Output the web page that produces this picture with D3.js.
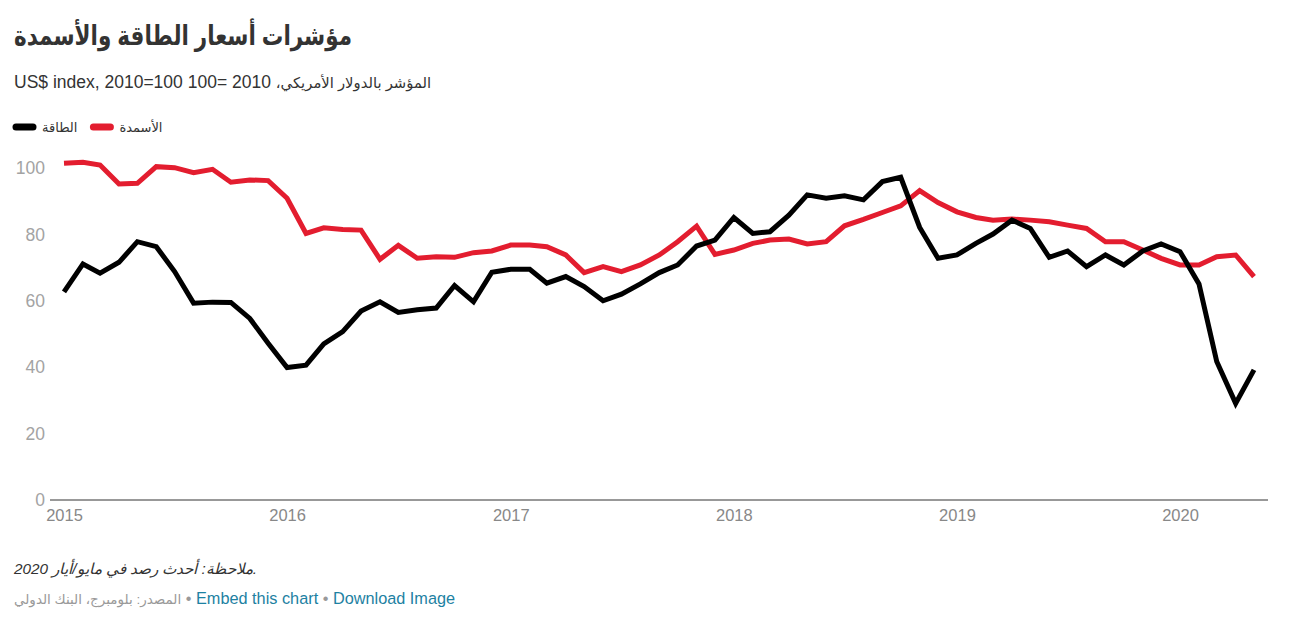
<!doctype html>
<html>
<head>
<meta charset="utf-8" />
<title>مؤشرات أسعار الطاقة والأسمدة</title>
<style>
  html,body{margin:0;background:#fff}
  body{width:1291px;height:630px;position:relative;overflow:hidden;
       font-family:"Liberation Sans", Arial, "DejaVu Sans", sans-serif;color:#333}
  .hd{position:absolute;left:14px;white-space:nowrap}
  .title{top:20px;font-size:27px;font-weight:bold;color:#333;transform-origin:0 0}
  .sub{top:72px;font-size:17.5px;color:#333;text-align:left}
  .sub .ar{font-size:14.8px}
  .note{top:560px;font-size:15.3px;font-style:italic;color:#333}
  .src{top:589px;font-size:16.3px;color:#999}
  .src .ar{font-size:13.5px}
  .src a{color:#1d81a2;text-decoration:none}
  svg{position:absolute;left:0;top:0}
</style>
</head>
<body>
<div class="hd title" id="title">مؤشرات أسعار الطاقة والأسمدة</div>
<div class="hd sub" dir="rtl"><span class="ar">المؤشر بالدولار الأمريكي،</span> 2010 =100 US$ index, 2010=100</div>
<div class="hd note">ملاحظة: أحدث رصد في مايو/أيار 2020.</div>
<div class="hd src"><span class="ar">المصدر: بلومبرج، البنك الدولي</span> • <a href="#">Embed this chart</a> • <a href="#">Download Image</a></div>
<svg id="chart" width="1291" height="630"></svg>

<script src="https://cdn.jsdelivr.net/npm/d3@7"></script>
<script>
// monthly, Jan 2015 .. May 2020
const months = [
  "2015-01","2015-02","2015-03","2015-04","2015-05","2015-06","2015-07","2015-08","2015-09","2015-10","2015-11","2015-12",
  "2016-01","2016-02","2016-03","2016-04","2016-05","2016-06","2016-07","2016-08","2016-09","2016-10","2016-11","2016-12",
  "2017-01","2017-02","2017-03","2017-04","2017-05","2017-06","2017-07","2017-08","2017-09","2017-10","2017-11","2017-12",
  "2018-01","2018-02","2018-03","2018-04","2018-05","2018-06","2018-07","2018-08","2018-09","2018-10","2018-11","2018-12",
  "2019-01","2019-02","2019-03","2019-04","2019-05","2019-06","2019-07","2019-08","2019-09","2019-10","2019-11","2019-12",
  "2020-01","2020-02","2020-03","2020-04","2020-05"
];

// الطاقة (energy)
const energy = [
  62.7,71.1,68.3,71.6,77.8,76.3,68.8,59.3,59.6,59.5,54.7,47.2,
  39.9,40.6,47.0,50.7,56.9,59.7,56.5,57.3,57.8,64.6,59.7,68.6,
  69.5,69.5,65.3,67.3,64.3,60.0,62.0,65.1,68.5,70.8,76.5,78.3,
  85.1,80.3,80.8,85.8,91.9,90.9,91.6,90.4,95.9,97.2,82.1,72.8,
  73.8,77.3,80.1,84.3,81.8,73.1,75.0,70.3,73.8,70.8,75.0,77.1,
  74.8,65.1,41.7,29.1,39.2
];

// الأسمدة (fertilizers)
const fertilizer = [
  101.4,101.7,100.9,95.2,95.4,100.4,100.1,98.6,99.6,95.7,96.4,96.2,
  90.9,80.3,82.0,81.5,81.3,72.5,76.7,72.8,73.3,73.1,74.5,75.0,
  76.8,76.8,76.3,73.8,68.5,70.3,68.8,70.8,73.8,77.8,82.5,74.0,
  75.3,77.3,78.3,78.6,77.1,77.8,82.6,84.5,86.6,88.6,93.2,89.6,
  86.8,85.1,84.3,84.6,84.3,83.8,82.8,81.8,77.8,77.8,75.3,72.8,
  70.8,70.8,73.3,73.8,67.3
];

const yTicks = [0,20,40,60,80,100];
const xTicks = ["2015","2016","2017","2018","2019","2020"];

const seriesNames = ["الطاقة","الأسمدة"];
const seriesColors = ["#000000","#e31d2f"];

// squeeze the title to the width of the original lettering
const titleEl = document.getElementById("title");
titleEl.style.transform = `scaleX(${338 / titleEl.getBoundingClientRect().width})`;

const parseMonth = d3.timeParse("%Y-%m");
const parseYear = d3.timeParse("%Y");
const dates = months.map(parseMonth);

const svg = d3.select("#chart");

const x = d3.scaleTime()
  .domain([dates[0], dates[dates.length-1]])
  .range([64, 1254]);
const y = d3.scaleLinear().domain([0,100]).range([500,168]);

// y axis labels (no line, no grid)
svg.append("g")
  .attr("transform","translate(45,0)")
  .call(d3.axisLeft(y).tickValues(yTicks).tickSize(0).tickPadding(0))
  .call(g=>g.select(".domain").remove())
  .call(g=>g.selectAll("text")
    .attr("fill","#a3a3a3")
    .attr("font-size",17.5)
    .attr("font-family","'Liberation Sans', Arial, sans-serif"));

// baseline
svg.append("line")
  .attr("x1",50).attr("x2",1268)
  .attr("y1",y(0)).attr("y2",y(0))
  .attr("stroke","#333").attr("stroke-width",1);

// x axis labels
svg.append("g")
  .attr("transform",`translate(0,${y(0)})`)
  .call(d3.axisBottom(x).tickValues(xTicks.map(parseYear)).tickFormat(d3.timeFormat("%Y")).tickSize(0).tickPadding(9))
  .call(g=>g.select(".domain").remove())
  .call(g=>g.selectAll("text")
    .attr("fill","#888")
    .attr("font-size",16.5)
    .attr("font-family","'Liberation Sans', Arial, sans-serif"));

const line = d3.line()
  .x((d,i)=>x(dates[i]))
  .y(d=>y(d));

// fertilizer first so energy sits on top
[1,0].forEach(k=>{
  svg.append("path")
    .datum(k===0 ? energy : fertilizer)
    .attr("d", line)
    .attr("fill","none")
    .attr("stroke", seriesColors[k])
    .attr("stroke-width",5)
    .attr("stroke-linejoin","miter")
    .attr("stroke-linecap","butt");
});

// legend
const legend = svg.append("g").attr("transform","translate(13,127)");
let lx = 0;
seriesNames.forEach((name,k)=>{
  const g = legend.append("g").attr("transform",`translate(${lx},0)`);
  g.append("line").attr("x1",3).attr("x2",20).attr("y1",0).attr("y2",0)
    .attr("stroke",seriesColors[k]).attr("stroke-width",7).attr("stroke-linecap","round");
  const t = g.append("text").attr("x",29).attr("y",0).attr("dy","0.35em")
    .attr("font-size",13).attr("fill","#333")
    .attr("font-family","'DejaVu Sans', sans-serif")
    .text(name);
  lx += 29 + t.node().getComputedTextLength() + 13;
});
</script>
</body>
</html>
